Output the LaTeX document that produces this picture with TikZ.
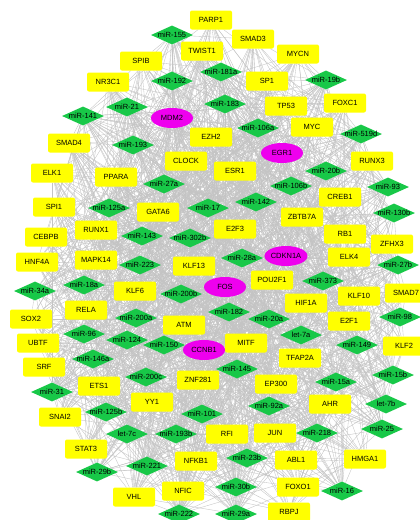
\documentclass[tikz,border=0pt]{standalone}
\usepackage{fontspec}
\setmainfont{Liberation Sans}
\usetikzlibrary{shapes.geometric,backgrounds}
\definecolor{mirgreen}{RGB}{24,200,72}
\definecolor{geneyellow}{RGB}{255,255,0}
\definecolor{hubmag}{RGB}{238,0,238}
\definecolor{edgegray}{RGB}{196,196,196}
\newcommand\mk[1]{\makebox[0pt]{#1}}
\def\genes{PARP1/211/20, SMAD3/253/39, TWIST1/202/51, MYCN/298/54, SPIB/141/61,
SP1/267/81, NR3C1/108/82, TP53/286/106, FOXC1/345/103, MYC/312/127, SMAD4/69/143,
EZH2/211/137, RUNX3/372/161, ELK1/52/173, PPARA/116/177, CLOCK/186/161, ESR1/235/171,
CREB1/340/197, SPI1/54/207, GATA6/158/212, ZBTB7A/302/217, CEBPB/46/237, RUNX1/96/230,
E2F3/235/229, RB1/345/234, ZFHX3/392/244, HNF4A/37/262, MAPK14/96/260, KLF13/194/266,
ELK4/349/257, KLF6/135/291, POU2F1/272/280, KLF10/359/296, SMAD7/406/293, HIF1A/306/303,
RELA/86/310, SOX2/31/319, E2F1/349/321, ATM/184/325, UBTF/38/343, MITF/246/343,
TFAP2A/300/358, KLF2/404/346, SRF/44/367, ETS1/99/386, ZNF281/198/380, EP300/276/384,
YY1/152/402, AHR/330/404, SNAI2/60/417, RFI/227/434, JUN/275/433, STAT3/86/449,
NFKB1/196/461, ABL1/296/460, HMGA1/365/459, VHL/134/497, NFIC/183/491, FOXO1/298/487,
RBPJ/289/512}
\def\hubs{MDM2/172/118, EGR1/282/153, CDKN1A/286/256, FOS/225/287, CCNB1/204/350}
\def\mirs{miR-155/172/35, miR-181a/221/72, miR-192/172/81, miR-19b/326/80, miR-21/127/107,
miR-183/225/104, miR-141/83/116, miR-106a/258/128, miR-519d/361/134, miR-193/133/145,
miR-27a/164/184, miR-20b/326/171, miR-106b/291/186, miR-93/388/187, miR-125a/109/208,
miR-17/208/208, miR-142/256/202, miR-130b/394/213, miR-143/142/236, miR-302b/190/238,
miR-223/140/265, miR-28a/242/258, miR-27b/398/265, miR-34a/35/291, miR-18a/84/285,
miR-200b/181/294, miR-373/323/281, miR-200a/136/318, miR-182/229/312, miR-20a/269/319,
miR-98/400/317, miR-96/84/334, miR-124/127/340, let-7a/301/335, miR-150/164/345,
miR-149/357/345, miR-146a/93/359, miR-145/237/369, miR-200c/146/377, miR-15a/336/382,
miR-15b/393/375, miR-31/52/392, miR-92a/269/406, let-7b/386/404, miR-125b/106/412,
miR-101/202/414, miR-193b/176/434, miR-218/317/433, miR-25/382/429, let-7c/127/434,
miR-221/147/466, miR-23b/247/458, miR-29b/97/472, miR-30b/236/487, miR-16/342/491,
miR-222/179/514, miR-29a/236/514}
\begin{document}
\begin{tikzpicture}[x=1pt,y=-1pt,font=\fontsize{7.5}{9}\selectfont,
  gene/.style={fill=geneyellow,rounded corners=2pt,minimum width=42pt,minimum height=19pt,inner sep=0pt},
  hub/.style={ellipse,fill=hubmag,minimum width=42pt,minimum height=20pt,inner sep=0pt},
  mir/.style={diamond,fill=mirgreen,minimum width=42pt,minimum height=19pt,inner sep=0pt},
  link/.style={draw=edgegray,line width=0.35pt}]
\useasboundingbox (0,0) rectangle (420,520);
\foreach \t/\x/\y in \genes {\node[gene] (\t) at (\x,\y) {\t};}
\foreach \t/\x/\y in \hubs {\node[hub] (\t) at (\x,\y) {\t};}
\foreach \t/\x/\y in \mirs {\node[mir] (\t) at (\x,\y) {\mk{\t}};}
\begin{scope}[on background layer]
\fill[white] (0,0) rectangle (420,520);
\pgfmathsetseed{7}
\foreach \m/\mx/\my in \mirs {
  \foreach \g/\gx/\gy in \genes {
    \pgfmathtruncatemacro\r{rnd<0.4?1:0}
    \ifnum\r=1 \draw[link] (\m) -- (\g); \fi
  }
  \foreach \g/\gx/\gy in \hubs {
    \pgfmathtruncatemacro\r{rnd<0.7?1:0}
    \ifnum\r=1 \draw[link] (\m) -- (\g); \fi
  }
}
\end{scope}
\end{tikzpicture}
\end{document}
